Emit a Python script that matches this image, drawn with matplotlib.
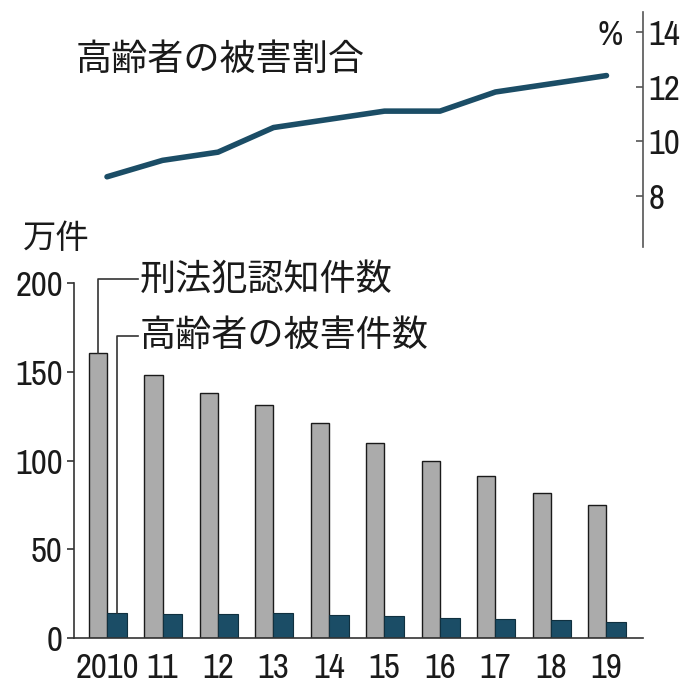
import numpy as np
import matplotlib
matplotlib.use("Agg")
import matplotlib.pyplot as plt
from matplotlib import font_manager as fm

years = ["2010", "11", "12", "13", "14", "15", "16", "17", "18", "19"]
total_cases = [160.4, 148.1, 138.2, 131.4, 121.2, 109.9, 99.6, 91.5, 81.7, 74.9]
elderly_cases = [14.1, 13.8, 13.3, 13.9, 13.2, 12.3, 11.2, 10.8, 9.9, 9.3]
elderly_ratio = [8.7, 9.3, 9.6, 10.5, 10.8, 11.1, 11.1, 11.8, 12.1, 12.4]

JP = ["Noto Sans CJK JP", "DejaVu Sans"]

# pick a narrow font for the numbers if one is installed
narrow = [f.name for f in fm.fontManager.ttflist
          if "Narrow" in f.name or "Condensed" in f.name]
condensed = [f.name for f in fm.fontManager.ttflist
             if f.stretch in ("condensed", "semi-condensed", 600, 500) and f.name == "DejaVu Sans"]
if narrow:
    NUM = dict(family=[narrow[0], "DejaVu Sans"], size=25)
elif condensed:
    NUM = dict(family=["DejaVu Sans"], stretch="condensed", size=23)
else:
    NUM = dict(family=["Roboto", "DejaVu Sans"], size=22)

gray = "#ababab"
teal = "#1b4d66"
ink = "#1a1a1a"

fig = plt.figure(figsize=(6.96, 6.96), dpi=100)
ax = fig.add_axes([0.1063, 0.0833, 0.924 - 0.1063, 0.5934 - 0.0833])
ax_top = fig.add_axes([0.1063, 0.645, 0.924 - 0.1063, 0.983 - 0.645])

x = np.arange(len(years))
w_gray = 0.33
w_dark = 0.36

# bars
ax.bar(x - w_gray / 2, total_cases, width=w_gray, color=gray, edgecolor=ink, linewidth=1.0)
ax.bar(x + w_dark / 2, elderly_cases, width=w_dark, color=teal, edgecolor="#10303f", linewidth=0.8)

ax.set_xlim(-0.595, 9.66)
ax.set_ylim(0, 200)
ax.set_yticks([0, 50, 100, 150, 200])
ax.set_xticks(x)
ax.set_xticklabels(years)
for s in ["top", "right"]:
    ax.spines[s].set_visible(False)
ax.spines["left"].set_color("#333333")
ax.spines["bottom"].set_color("#333333")
ax.spines["left"].set_linewidth(1.2)
ax.spines["bottom"].set_linewidth(1.2)
ax.tick_params(axis="x", length=0, pad=10)
ax.tick_params(axis="y", direction="out", length=5, width=1.2, color="#333333", pad=3)
for lab in ax.get_xticklabels() + ax.get_yticklabels():
    lab.set(**NUM)
    lab.set_color(ink)

# leader labels
lead_x = 0.56
y1 = 202
ax.plot([-w_gray / 2, -w_gray / 2, lead_x], [total_cases[0], y1, y1],
        color="#333333", lw=1.2, clip_on=False)
ax.text(lead_x + 0.03, y1, "刑法犯認知件数", family=JP, fontsize=26,
        color=ink, va="center", ha="left")
y2 = 170
ax.plot([w_dark / 2, w_dark / 2, lead_x], [elderly_cases[0], y2, y2],
        color="#333333", lw=1.2, clip_on=False)
ax.text(lead_x + 0.03, y2, "高齢者の被害件数", family=JP, fontsize=26,
        color=ink, va="center", ha="left")

# top line panel
ax_top.plot(x, elderly_ratio, color=teal, lw=4, solid_capstyle="round")
ax_top.set_xlim(-0.595, 9.66)
ax_top.set_ylim(6.13, 14.73)
ax_top.set_yticks([8, 10, 12, 14])
ax_top.set_xticks([])
for s in ["top", "left", "bottom"]:
    ax_top.spines[s].set_visible(False)
ax_top.spines["right"].set_color("#555555")
ax_top.spines["right"].set_linewidth(1.2)
ax_top.yaxis.tick_right()
ax_top.tick_params(axis="y", direction="in", length=5, width=1.2, color="#555555", pad=4)
for lab in ax_top.get_yticklabels():
    lab.set(**NUM)
    lab.set_color(ink)

fig.text(0.876, 0.950, "%", color=ink, ha="center", va="center", **NUM)
fig.text(0.108, 0.914, "高齢者の被害割合", family=JP, fontsize=26, color=ink, ha="left", va="center")
fig.text(0.033, 0.658, "万件", family=JP, fontsize=24, color=ink, ha="left", va="center")

fig.savefig("out.png", dpi=100)
